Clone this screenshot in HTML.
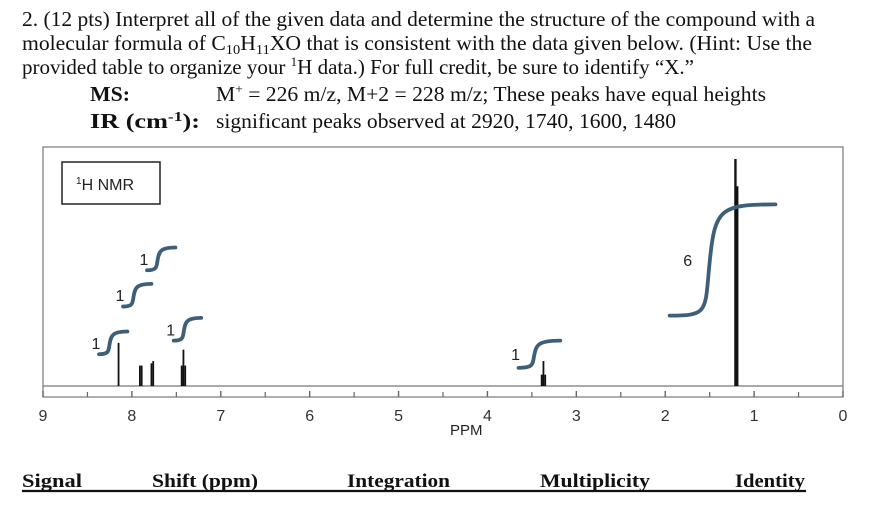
<!DOCTYPE html>
<html><head><meta charset="utf-8"><style>
html,body{margin:0;padding:0;background:#fff;}
svg{display:block;font-family:"Liberation Serif",serif;}
</style></head><body>
<svg id="s" width="880" height="512" viewBox="0 0 880 512">
<g font-size="21" fill="#111">
<text x="22" y="26" textLength="793" lengthAdjust="spacingAndGlyphs">2. (12 pts) Interpret all of the given data and determine the structure of the compound with a</text>
<text x="22" y="50" textLength="790" lengthAdjust="spacingAndGlyphs">molecular formula of C<tspan font-size="14" dy="4">10</tspan><tspan dy="-4">H</tspan><tspan font-size="14" dy="4">11</tspan><tspan dy="-4">XO that is consistent with the data given below. (Hint: Use the</tspan></text>
<text x="22" y="74" textLength="672" lengthAdjust="spacingAndGlyphs">provided table to organize your <tspan font-size="13" dy="-8">1</tspan><tspan dy="8">H data.) For full credit, be sure to identify “X.”</tspan></text>
<text x="90" y="101" font-weight="bold" textLength="40" lengthAdjust="spacingAndGlyphs">MS:</text>
<text x="216" y="101" textLength="550" lengthAdjust="spacingAndGlyphs">M<tspan font-size="13" dy="-8">+</tspan><tspan dy="8"> = 226 m/z, M+2 = 228 m/z; These peaks have equal heights</tspan></text>
<text x="90" y="128" font-weight="bold" textLength="110" lengthAdjust="spacingAndGlyphs">IR (cm<tspan font-size="14" dy="-7">-1</tspan><tspan dy="7">):</tspan></text>
<text x="216" y="128" textLength="460" lengthAdjust="spacingAndGlyphs">significant peaks observed at 2920, 1740, 1600, 1480</text>
</g>
<g id="chart">
<rect x="43" y="147" width="800" height="250" fill="none" stroke="#777" stroke-width="1.2"/>
<rect x="62" y="162" width="98" height="42" fill="none" stroke="#222" stroke-width="1.5"/>
<text x="76" y="190" font-family="Liberation Sans,sans-serif" font-size="16" fill="#222"><tspan font-size="10" dy="-6">1</tspan><tspan dy="6">H NMR</tspan></text>
<line x1="43" y1="386" x2="843" y2="386" stroke="#777" stroke-width="1.2"/>
<text x="450" y="435" font-family="Liberation Sans,sans-serif" font-size="15" fill="#222">PPM</text>
<g id="ticks"></g><g id="peaks"></g><g id="integrals"></g>
</g>
<g font-size="19" font-weight="bold" fill="#111">
<text x="22" y="487" textLength="60" lengthAdjust="spacingAndGlyphs">Signal</text>
<text x="152" y="487" textLength="106" lengthAdjust="spacingAndGlyphs">Shift (ppm)</text>
<text x="347" y="487" textLength="103" lengthAdjust="spacingAndGlyphs">Integration</text>
<text x="540" y="487" textLength="110" lengthAdjust="spacingAndGlyphs">Multiplicity</text>
<text x="735" y="487" textLength="70" lengthAdjust="spacingAndGlyphs">Identity</text>
<line x1="22" y1="491" x2="806" y2="491" stroke="#111" stroke-width="2.2"/>
</g>
</svg>
<script>
const tickValues=[9,8,7,6,5,4,3,2,1,0];
const minorTicks=[8.5,7.5,6.5,5.5,4.5,3.5,2.5,1.5,0.5];
const peakShifts=[8.15,7.91,7.89,7.78,7.76,7.44,7.42,7.40,3.39,3.37,3.35,1.21,1.19];
const peakHeights=[19,9,9,10,11,9,16,9,5,11,5,100,88];
const integralStart=[8.37,8.10,7.83,7.53,3.65,1.95];
const integralEnd=[8.05,7.78,7.51,7.22,3.18,0.76];
const integralLow=[14,35,51,20,8,31];
const integralHigh=[24,45,61,30,20,80];
const integralLabels=["1","1","1","1","1","6"];
const NS='http://www.w3.org/2000/svg';
const xS=p=>843-p*(800/9);
const yS=v=>386-v*2.27;
function mk(t,a,par){const e=document.createElementNS(NS,t);for(const k in a)e.setAttribute(k,a[k]);document.getElementById(par).appendChild(e);return e;}
tickValues.forEach(v=>{
 const l=mk('line',{x1:xS(v),x2:xS(v),y1:397,y2:391,stroke:'#666','stroke-width':1.4},'ticks');
 
 
 const t=mk('text',{x:xS(v),y:421,'text-anchor':'middle','font-family':'Liberation Sans,sans-serif','font-size':16,fill:'#333'},'ticks');
 t.textContent=v;
 
 
});
minorTicks.forEach(v=>{
 const l=mk('line',{x1:xS(v),x2:xS(v),y1:397,y2:392,stroke:'#666','stroke-width':1.2},'ticks');
 
 
});
peakShifts.forEach((p,i)=>{
 const l=mk('line',{x1:xS(p),x2:xS(p),y1:386,y2:yS(peakHeights[i]),stroke:'#111','stroke-width':peakHeights[i]>50?2.4:1.8},'peaks');
 
 
});
integralStart.forEach((s,i)=>{
 const x0=xS(s),x1=xS(integralEnd[i]),y0=yS(integralLow[i]),y1=yS(integralHigh[i]);
 const w=x1-x0,xm=x0+w*0.38;
 const d=`M${x0},${y0} C${xm},${y0} ${xm-w*0.05},${y0-4} ${xm},${(y0+y1)/2} C${xm+w*0.05},${y1+4} ${xm+w*0.1},${y1} ${x1},${y1}`;
 const p=mk('path',{d:d,fill:'none',stroke:'#3f5f78','stroke-width':3.8,'stroke-linecap':'round'},'integrals');
 
 
 const lx=i==5?x0+18:x0-3, ly=(y0+y1)/2+6;
 const t=mk('text',{x:lx,y:ly,'font-family':'Liberation Sans,sans-serif','font-size':16,fill:'#222','text-anchor':'middle'},'integrals');
 t.textContent=integralLabels[i];
 
 
});
</script>
</body></html>
